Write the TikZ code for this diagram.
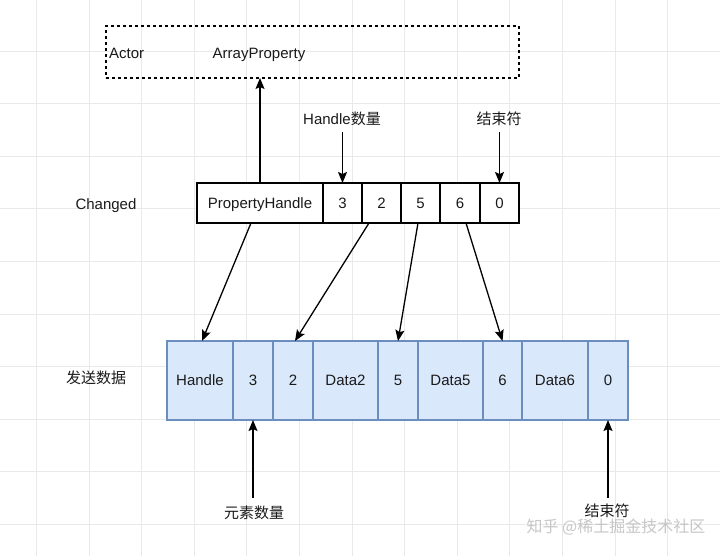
\documentclass[tikz,border=0pt]{standalone}
\usepackage{fontspec}
\setmainfont{Liberation Sans}
\newfontfamily\cjk{Noto Sans CJK SC}
\usetikzlibrary{arrows.meta}
\definecolor{cellblue}{HTML}{DAE8FC}
\definecolor{cellstroke}{HTML}{6C8EBF}
\definecolor{gridc}{HTML}{E9E9E9}
\definecolor{txt}{HTML}{1A1A1A}
\tikzset{
  topcell/.style={draw=black, fill=white, line width=1.2pt, minimum height=40pt, inner sep=0pt, outer sep=0pt, text=txt, text height=10.8pt, text depth=0pt, font=\fontsize{15}{18}\selectfont},
  botcell/.style={draw=cellstroke, fill=cellblue, line width=1.2pt, minimum height=79pt, inner sep=0pt, outer sep=0pt, text=txt, text height=10.8pt, text depth=0pt, font=\fontsize{15}{18}\selectfont},
  lbl/.style={inner sep=0pt, text=txt, text height=10.8pt, text depth=0pt, font=\fontsize{15}{18}\selectfont},
  conn/.style={draw=black, line width=1.3pt, -{Stealth[length=11pt,width=9pt,inset=2pt]}},
}
\begin{document}
\begin{tikzpicture}[x=1pt,y=-1pt]
\useasboundingbox (0,0) rectangle (720,556);
\fill[white] (0,0) rectangle (720,556);
% background grid
\foreach \gx in {36.4,89,141.6,194.2,246.8,299.4,352,404.6,457.2,509.8,562.4,615,667.6}
  \draw[gridc, line width=0.8pt] (\gx,0) -- (\gx,556);
\foreach \gy in {51,103.6,156.2,208.8,261.4,314,366.6,419.2,471.8,524.4}
  \draw[gridc, line width=0.8pt] (0,\gy) -- (720,\gy);

% dashed actor box
\node[draw=black, line width=1.2pt, dash pattern=on 3pt off 3pt, minimum width=413pt, minimum height=52pt, inner sep=0pt, outer sep=0pt] (actorbox) at (312.5,52) {};
\node[lbl, anchor=west] (actor) at (109,53) {Actor};
\node[lbl] (arrprop) at (259,53) {ArrayProperty};

% top row
\node[topcell, minimum width=126pt] (ph) at (260,203) {PropertyHandle};
\node[topcell, minimum width=39pt] (t3) at (342.5,203) {3};
\node[topcell, minimum width=39pt] (t2) at (381.5,203) {2};
\node[topcell, minimum width=39pt] (t5) at (420.5,203) {5};
\node[topcell, minimum width=40pt] (t6) at (460,203) {6};
\node[topcell, minimum width=39pt] (t0) at (499.5,203) {0};

% bottom row
\node[botcell, minimum width=66pt] (bh) at (200,380.5) {Handle};
\node[botcell, minimum width=40pt] (b3) at (253,380.5) {3};
\node[botcell, minimum width=40pt] (b2) at (293,380.5) {2};
\node[botcell, minimum width=65pt] (bd2) at (345.5,380.5) {Data2};
\node[botcell, minimum width=40pt] (b5) at (398,380.5) {5};
\node[botcell, minimum width=65pt] (bd5) at (450.5,380.5) {Data5};
\node[botcell, minimum width=39pt] (b6) at (502.5,380.5) {6};
\node[botcell, minimum width=66pt] (bd6) at (555,380.5) {Data6};
\node[botcell, minimum width=40pt] (b0) at (608,380.5) {0};

% labels
\node[lbl] (changed) at (106,204) {Changed};
\node[lbl] (send) at (96,378) {\cjk 发送数据};
\node[lbl] (hcount) at (342,119) {Handle{\cjk 数量}};
\node[lbl] (endtop) at (499,119) {\cjk 结束符};
\node[lbl] (ecount) at (254,513) {\cjk 元素数量};
\node[lbl] (endbot) at (607,511) {\cjk 结束符};
\node[inner sep=0pt, text=gray!55, opacity=0.8, font=\fontsize{16}{19}\selectfont] (wm) at (616,527) {\cjk 知乎 @稀土掘金技术社区};

% connectors
\draw[conn] (ph.north) -- (ph.north |- actorbox.south);
\draw[conn] (t3.north |- 0,132) -- (t3.north);
\draw[conn] (t0.north |- 0,132) -- (t0.north);
\draw[conn] ([xshift=-9pt]ph.south) -- ([xshift=2pt]bh.north);
\draw[conn] ([xshift=-12.5pt]t2.south) -- ([xshift=2pt]b2.north);
\draw[conn] ([xshift=-2.5pt]t5.south) -- (b5.north);
\draw[conn] ([xshift=6pt]t6.south) -- (b6.north);
\draw[conn] (b3.south |- 0,498) -- (b3.south);
\draw[conn] (b0.south |- 0,498) -- (b0.south);
\end{tikzpicture}
\end{document}
